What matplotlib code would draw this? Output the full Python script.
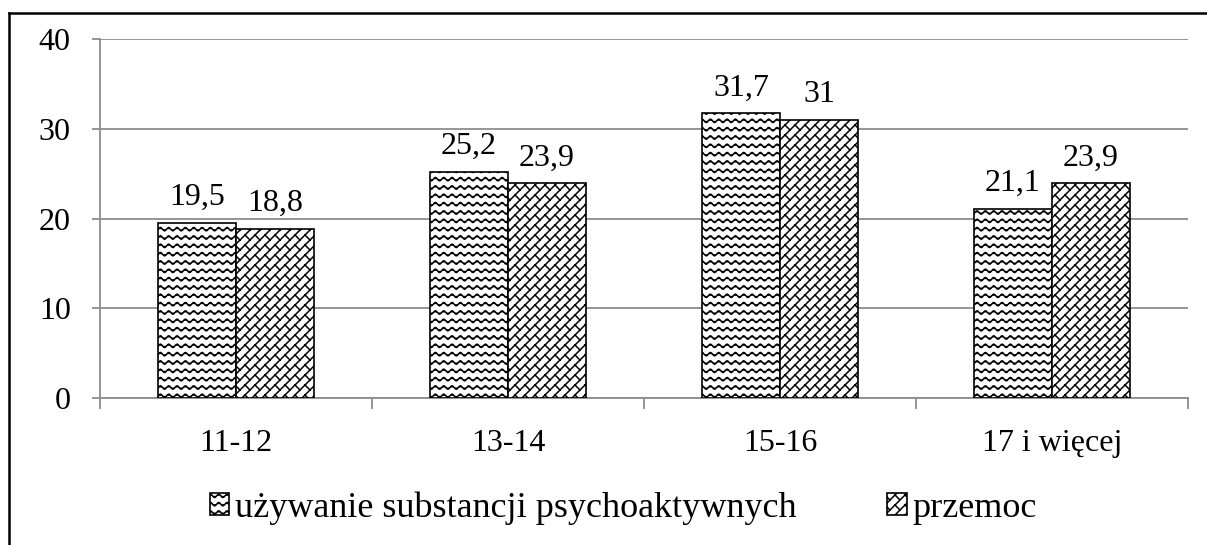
import warnings
warnings.filterwarnings("ignore")
import numpy as np
import matplotlib
matplotlib.use("Agg")
import matplotlib.pyplot as plt
import matplotlib.hatch as mhatch
from matplotlib.path import Path
from matplotlib.lines import Line2D
from matplotlib.patches import Patch

categories = ["11-12", "13-14", "15-16", "17 i więcej"]
substancje = [19.5, 25.2, 31.7, 21.1]
przemoc = [18.8, 23.9, 31.0, 23.9]
labels_sub = ["19,5", "25,2", "31,7", "21,1"]
labels_prz = ["18,8", "23,9", "31", "23,9"]
series_names = ["używanie substancji psychoaktywnych", "przemoc"]
yticks = [0, 10, 20, 30, 40]


class WaveHatch(mhatch.HatchPatternBase):
    def __init__(self, hatch, density):
        self.rows = int(hatch.count('w') * density)
        self.periods = 12
        self.pts = self.periods * 8 + 1
        self.num_vertices = self.rows * self.pts if self.rows else 0

    def set_vertices_and_codes(self, vertices, codes):
        xs = np.linspace(0, 1, self.pts)
        amp = 0.017
        for r in range(self.rows):
            y0 = (r + 0.5) / self.rows
            ys = y0 + amp * np.sin(2 * np.pi * self.periods * xs)
            s = r * self.pts
            vertices[s:s + self.pts, 0] = xs
            vertices[s:s + self.pts, 1] = ys
            codes[s] = Path.MOVETO
            codes[s + 1:s + self.pts] = Path.LINETO


class BrickHatch(mhatch.HatchPatternBase):
    def __init__(self, hatch, density):
        k = hatch.count('b')
        self.n = 10 if k else 0
        self.m = 10
        if k:
            self.lines = list(range(-self.n, self.n + 1))
            self.joints = []
            d = 1.0 / self.n
            for gi in range(-self.n, self.n):
                c = gi * d
                for j in range(-self.m, 2 * self.m + 1):
                    t = j / self.m
                    self.joints.append((t, c, d))
            self.num_vertices = 2 * len(self.lines) + 2 * len(self.joints)
        else:
            self.num_vertices = 0

    def set_vertices_and_codes(self, vertices, codes):
        d = 1.0 / self.n
        i = 0
        for li in self.lines:
            c = li * d
            vertices[i] = (-1.0, -1.0 + c)
            vertices[i + 1] = (2.0, 2.0 + c)
            codes[i] = Path.MOVETO
            codes[i + 1] = Path.LINETO
            i += 2
        for (t, c, dd) in self.joints:
            vertices[i] = (t, t + c)
            vertices[i + 1] = (t - dd / 2, t + c + dd / 2)
            codes[i] = Path.MOVETO
            codes[i + 1] = Path.LINETO
            i += 2


mhatch._hatch_types.append(WaveHatch)
mhatch._hatch_types.append(BrickHatch)

plt.rcParams['font.family'] = ['Liberation Serif', 'DejaVu Serif']
plt.rcParams['hatch.linewidth'] = 1.1
plt.rcParams['hatch.color'] = 'black'

fig = plt.figure(figsize=(12.07, 5.45), dpi=100)
ax = fig.add_axes([100 / 1207, 1 - 398 / 545, 1088 / 1207, 359 / 545])

x = np.arange(len(categories))
w = 0.287
ax.bar(x - w / 2, substancje, w, facecolor='white', edgecolor='black',
       linewidth=1.2, hatch='ww', zorder=3)
ax.bar(x + w / 2, przemoc, w, facecolor='white', edgecolor='black',
       linewidth=1.2, hatch='b', zorder=3)

fs = 23
for xi, v, t in zip(x - w / 2, substancje, labels_sub):
    ax.text(xi, v + 2.0, t, ha='center', va='baseline', fontsize=fs)
for xi, v, t in zip(x + w / 2, przemoc, labels_prz):
    ax.text(xi, v + 2.0, t, ha='center', va='baseline', fontsize=fs)

ax.set_xlim(-0.5, 3.5)
ax.set_ylim(0, 40)
ax.set_yticks(yticks)
ax.set_yticklabels([str(v) for v in yticks], fontsize=fs)
ax.yaxis.grid(True, color='#8c8c8c', linewidth=1.3, zorder=0)
ax.set_axisbelow(True)

ax.set_xticks(np.arange(-0.5, 4.0, 1.0))
ax.set_xticklabels([])
ax.set_xticks(x, minor=True)
ax.set_xticklabels(categories, minor=True, fontsize=fs)
ax.tick_params(axis='x', which='major', length=8, color='#8c8c8c', width=1.3)
ax.tick_params(axis='x', which='minor', length=0, pad=22)
ax.tick_params(axis='y', length=6, color='#8c8c8c', width=1.3, pad=15)

for s in ['top', 'right']:
    ax.spines[s].set_visible(False)
for s in ['left', 'bottom']:
    ax.spines[s].set_color('#8c8c8c')
    ax.spines[s].set_linewidth(1.3)

handles = [Patch(facecolor='white', edgecolor='black', hatch='ww', linewidth=1.2),
           Patch(facecolor='white', edgecolor='black', hatch='b', linewidth=1.2)]
fig.legend(handles, series_names, loc='center', bbox_to_anchor=(623 / 1207, 1 - 508 / 545),
           ncol=2, frameon=False, fontsize=26, handlelength=0.55, handleheight=0.55,
           handletextpad=0.15, columnspacing=2.5, borderpad=0, borderaxespad=0)

fig.add_artist(Line2D([9 / 1207, 9 / 1207], [0, 1 - 13 / 545], transform=fig.transFigure,
                      color='black', linewidth=1.8))
fig.add_artist(Line2D([9 / 1207, 1], [1 - 13 / 545, 1 - 13 / 545], transform=fig.transFigure,
                      color='black', linewidth=1.8))

fig.savefig('out.png', dpi=100)
